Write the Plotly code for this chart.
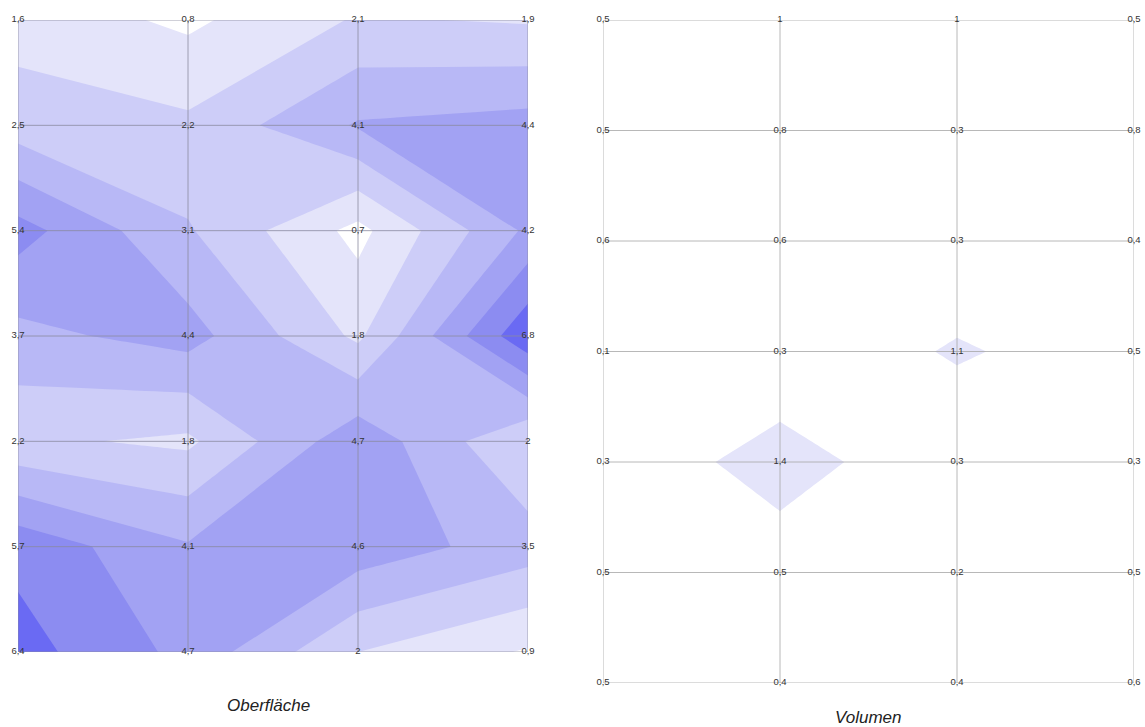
import plotly.graph_objects as go

# Grid columns / rows (rows listed top to bottom)
cols = [0, 1, 2, 3]
rows = [0, 1, 2, 3, 4, 5, 6]

oberflaeche = [
    [1.6, 0.8, 2.1, 1.9],
    [2.5, 2.2, 4.1, 4.4],
    [5.4, 3.1, 0.7, 4.2],
    [3.7, 4.4, 1.8, 6.8],
    [2.2, 1.8, 4.7, 2.0],
    [5.7, 4.1, 4.6, 3.5],
    [6.4, 4.7, 2.0, 0.9],
]

volumen = [
    [0.5, 1.0, 1.0, 0.5],
    [0.5, 0.8, 0.3, 0.8],
    [0.6, 0.6, 0.3, 0.4],
    [0.1, 0.3, 1.1, 0.5],
    [0.3, 1.4, 0.3, 0.3],
    [0.5, 0.5, 0.2, 0.5],
    [0.5, 0.4, 0.4, 0.6],
]

titles = ["Oberfläche", "Volumen"]

band_colors = ["#ffffff", "#e4e4fa", "#cdcdf8", "#b8b8f6", "#a2a2f3", "#8c8cf1", "#6a6af3"]
n = len(band_colors)
colorscale = []
for i, c in enumerate(band_colors):
    colorscale.append([i / n, c])
    colorscale.append([(i + 1) / n, c])


def fmt(v):
    return ("%g" % v).replace(".", ",")


fig = go.Figure()

W, H = 1145, 727


def px_x(v):
    return v / W


def px_y(v):
    return 1 - v / H


panels = [
    dict(data=oberflaeche, grid="#8a8aa0", title_x=268, title_y=705, xa="x", ya="y"),
    dict(data=volumen, grid="#a6a6a6", title_x=868, title_y=717, xa="x2", ya="y2"),
]

for k, p in enumerate(panels):
    fig.add_trace(go.Contour(
        x=cols, y=rows, z=p["data"],
        colorscale=colorscale, zmin=0, zmax=n, showscale=False,
        autocontour=False,
        contours=dict(start=0, end=n, size=1, coloring="fill", showlines=False),
        line=dict(width=0, smoothing=0),
        hoverinfo="skip",
        xaxis=p["xa"], yaxis=p["ya"],
    ))
    # grid lines through every node, drawn over the fill
    gx, gy = [], []
    for c in cols:
        gx += [c, c, None]
        gy += [rows[0], rows[-1], None]
    for r in rows:
        gx += [cols[0], cols[-1], None]
        gy += [r, r, None]
    fig.add_trace(go.Scatter(
        x=gx, y=gy, mode="lines", line=dict(color=p["grid"], width=0.8),
        hoverinfo="skip", showlegend=False, cliponaxis=False,
        xaxis=p["xa"], yaxis=p["ya"],
    ))
    xs, ys, txt = [], [], []
    for r, row in zip(rows, p["data"]):
        for c, v in zip(cols, row):
            xs.append(c)
            ys.append(r)
            txt.append(fmt(v))
    fig.add_trace(go.Scatter(
        x=xs, y=ys, text=txt, mode="text", cliponaxis=False,
        textfont=dict(family="Liberation Sans, Arial, sans-serif", size=9.5, color="#333333"),
        textposition="middle center", hoverinfo="skip", showlegend=False,
        xaxis=p["xa"], yaxis=p["ya"],
    ))
    fig.add_annotation(
        text="<i>%s</i>" % titles[k], x=px_x(p["title_x"]), y=px_y(p["title_y"]),
        xref="paper", yref="paper", showarrow=False,
        font=dict(family="Liberation Sans, Arial, sans-serif", size=17, color="#222222"),
        xanchor="center", yanchor="middle",
    )

axis_common = dict(showticklabels=False, ticks="", zeroline=False, showline=False,
                   showgrid=False, fixedrange=True)

fig.update_layout(
    width=W, height=H,
    margin=dict(l=0, r=0, t=0, b=0),
    paper_bgcolor="white", plot_bgcolor="white",
    showlegend=False,
    hovermode=False,
    xaxis=dict(domain=[px_x(18), px_x(528)], range=[0, 3], anchor="y", **axis_common),
    yaxis=dict(domain=[px_y(652), px_y(20)], range=[6, 0], anchor="x", **axis_common),
    xaxis2=dict(domain=[px_x(603), px_x(1134)], range=[0, 3], anchor="y2", **axis_common),
    yaxis2=dict(domain=[px_y(683), px_y(20)], range=[6, 0], anchor="x2", **axis_common),
)

fig.write_html(
    "out.html",
    config={"displayModeBar": False},
    post_script="document.body.style.margin='0';document.body.style.overflow='hidden';",
)
